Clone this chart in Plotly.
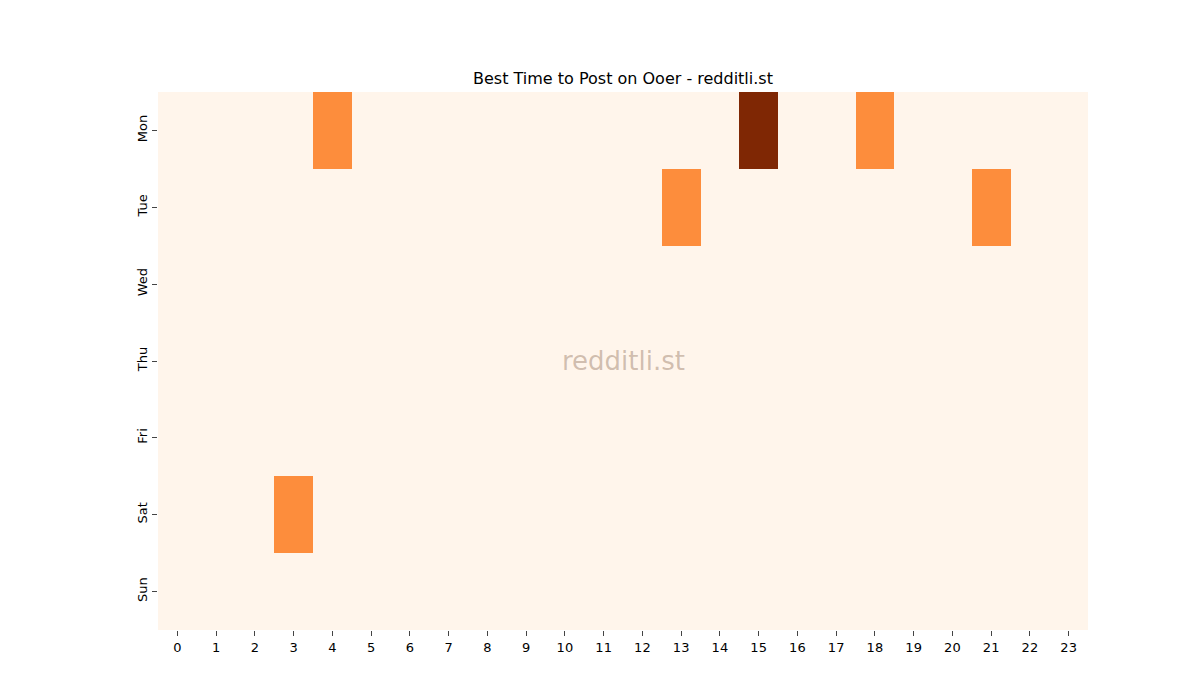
import plotly.graph_objects as go

hours = list(range(24))
days = ["Mon", "Tue", "Wed", "Thu", "Fri", "Sat", "Sun"]

# post counts per day (rows) and hour (columns)
counts = [[0] * 24 for _ in days]
counts[0][4] = 1
counts[0][15] = 2
counts[0][18] = 1
counts[1][13] = 1
counts[1][21] = 1
counts[5][3] = 1

oranges = [
    [0.0, "#fff5eb"], [0.125, "#fee6ce"], [0.25, "#fdd0a2"], [0.375, "#fdae6b"],
    [0.5, "#fd8d3c"], [0.625, "#f16913"], [0.75, "#d94801"], [0.875, "#a63603"],
    [1.0, "#7f2704"],
]

fig = go.Figure(go.Heatmap(
    z=counts, x=hours, y=days, colorscale=oranges, showscale=False,
    xgap=0, ygap=0,
))

fig.update_layout(
    width=1200, height=700,
    margin=dict(l=150, r=120, t=84, b=78, pad=0, autoexpand=False),
    paper_bgcolor="white", plot_bgcolor="white",
    font=dict(family="DejaVu Sans", size=13, color="black"),
    title=dict(text="Best Time to Post on Ooer - redditli.st", x=0.5, xanchor="center",
               xref="paper", y=1 - 70 / 700, yanchor="middle", font=dict(size=16)),
    annotations=[dict(text="redditli.st", x=0.5, y=0.5, xref="paper", yref="paper",
                      showarrow=False, font=dict(size=26, color="rgba(150,120,100,0.45)"))],
)
fig.update_xaxes(tickmode="array", tickvals=hours, ticks="outside", ticklen=5,
                 showgrid=False, zeroline=False, showline=False, automargin=False)
fig.update_yaxes(autorange="reversed", ticks="outside", ticklen=5, tickangle=-90,
                 showgrid=False, zeroline=False, showline=False, automargin=False)

fig.write_html("out.html")
